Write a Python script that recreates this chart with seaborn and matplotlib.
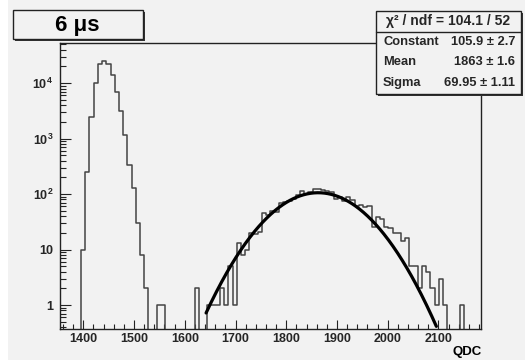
import numpy as np
import pandas as pd
import matplotlib
matplotlib.use("Agg")
import matplotlib.pyplot as plt
import seaborn as sns
from matplotlib.patches import Rectangle
from matplotlib.lines import Line2D
from matplotlib.ticker import MultipleLocator, LogLocator, NullFormatter

# ---------------- data ----------------
hist_lo, hist_hi, n_bins = 1354, 2184, 100
counts = ([0, 0, 0, 0, 0,
           10, 250, 2450, 10000, 22000, 25000, 22000, 14000, 7000, 3100,
           1150, 330, 130, 30, 8, 2,
           0, 0, 1, 1, 0, 0, 0, 0, 0, 0, 0, 2, 0, 0,
           1, 1, 1, 2, 1, 5, 1, 13, 8, 10, 20, 19, 21, 46, 42, 50,
           48, 70, 72, 75, 81, 96, 115, 102, 108, 125, 122, 118, 112, 108,
           81, 88, 76, 88, 78, 62, 64, 59, 60, 26, 38, 35, 26, 24, 20, 20,
           14, 16, 5, 5, 2, 5, 4, 2, 1, 3, 1,
           0, 0, 0, 1, 0, 0, 0, 0])
fit_constant, fit_mean, fit_sigma = 105.9, 1863, 69.95
fit_lo, fit_hi = 1642, 2096

x_major = [1400, 1500, 1600, 1700, 1800, 1900, 2000, 2100]
x_labels = ["1400", "1500", "1600", "1700", "1800", "1900", "2000", "2100"]
y_major = [1, 10, 100, 1000, 10000]
y_labels = ["1", "10", r"$\mathregular{10^{2}}$", r"$\mathregular{10^{3}}$",
            r"$\mathregular{10^{4}}$"]
x_title = "QDC"
title = "6 μs"
stats_header = "χ² / ndf = 104.1 / 52"
stats_names = ["Constant", "Mean", "Sigma"]
stats_values = ["105.9 ± 2.7", "1863 ± 1.6", "69.95 ± 1.11"]

# ---------------- style ----------------
sns.set_theme(style="white")
plt.rcParams["font.family"] = ["Liberation Sans", "DejaVu Sans"]
plt.rcParams["mathtext.default"] = "regular"

W, H = 525, 360
bg = "#f2f2f2"
dark = "#222222"

def frect(x0, y0, x1, y1, **kw):
    return Rectangle((x0 / W, 1 - y1 / H), (x1 - x0) / W, (y1 - y0) / H,
                     transform=fig.transFigure, **kw)

fig = plt.figure(figsize=(W / 100, H / 100), dpi=100, facecolor="white")
fig.patches.append(frect(8, 0, W, H, facecolor=bg, edgecolor="none", zorder=-10))

ax = fig.add_axes([60 / W, 1 - 329 / H, (481 - 60) / W, (329 - 43) / H])
ax.set_facecolor(bg)

edges = np.linspace(hist_lo, hist_hi, n_bins + 1)
centers = 0.5 * (edges[:-1] + edges[1:])
df = pd.DataFrame({"QDC": centers, "count": counts})
sns.histplot(data=df, x="QDC", weights="count", bins=n_bins,
             binrange=(hist_lo, hist_hi), element="step",
             fill=False, color="#444444", linewidth=1.1, ax=ax)

xs = np.linspace(fit_lo, fit_hi, 400)
ys = fit_constant * np.exp(-0.5 * ((xs - fit_mean) / fit_sigma) ** 2)
sns.lineplot(x=xs, y=ys, color="black", linewidth=2.3, ax=ax)

ax.set_yscale("log")
ax.set_xlim(hist_lo, hist_hi)
ax.set_ylim(0.37, 53000)
ax.set_xlabel("")
ax.set_ylabel("")

ax.set_xticks(x_major)
ax.set_xticklabels(x_labels, fontsize=9, fontweight="bold")
ax.xaxis.set_minor_locator(MultipleLocator(20))
ax.set_yticks(y_major)
ax.set_yticklabels(y_labels, fontsize=9, fontweight="bold")
ax.yaxis.set_minor_locator(LogLocator(base=10, subs=np.arange(2, 10)))
ax.yaxis.set_minor_formatter(NullFormatter())

ax.tick_params(axis="x", which="major", direction="in", length=6.5, width=0.8,
               color=dark, pad=3, top=False, bottom=True)
ax.tick_params(axis="x", which="minor", direction="in", length=3.3, width=0.8,
               color=dark, top=False, bottom=True)
ax.tick_params(axis="y", which="major", direction="in", length=8, width=0.8,
               color=dark, pad=5, left=True, right=False)
ax.tick_params(axis="y", which="minor", direction="in", length=4, width=0.8,
               color=dark, left=True, right=False)
for s in ax.spines.values():
    s.set_visible(True)
    s.set_color(dark)
    s.set_linewidth(1.0)

fig.text(482 / W, 1 - 352 / H, x_title, ha="right", va="center",
         fontsize=9.5, fontweight="bold", color="black")

# ---------------- title box ----------------
fig.patches.append(frect(14.5, 12, 144.5, 41, facecolor="#333333", edgecolor="none", zorder=5))
fig.patches.append(frect(12.5, 10, 142.5, 39, facecolor=bg, edgecolor=dark, linewidth=1.0, zorder=6))
fig.text(77 / W, 1 - 25 / H, title, ha="center", va="center",
         fontsize=16, fontweight="bold", color="black", zorder=7)

# ---------------- stats box ----------------
sx0, sy0, sx1, sy1 = 376, 11, 521, 94
fig.patches.append(frect(sx0 + 2, sy0 + 2, sx1 + 2, sy1 + 2, facecolor="#333333", edgecolor="none", zorder=5))
fig.patches.append(frect(sx0, sy0, sx1, sy1, facecolor=bg, edgecolor=dark, linewidth=1.0, zorder=6))
fig.lines.append(Line2D([sx0 / W, sx1 / W], [1 - 31.5 / H, 1 - 31.5 / H],
                        transform=fig.transFigure, color=dark, linewidth=1.0, zorder=7))
fig.text((sx0 + sx1) / 2 / W, 1 - 21.5 / H, stats_header, ha="center", va="center",
         fontsize=10, fontweight="bold", zorder=8)
for i, (nm, val) in enumerate(zip(stats_names, stats_values)):
    yy = 1 - (42 + 20.3 * i) / H
    fig.text(383 / W, yy, nm, ha="left", va="center", fontsize=9.3, fontweight="bold", zorder=8)
    fig.text(515.5 / W, yy, val, ha="right", va="center", fontsize=9.3, fontweight="bold", zorder=8)

fig.savefig("out.png", dpi=100, facecolor=fig.get_facecolor())
